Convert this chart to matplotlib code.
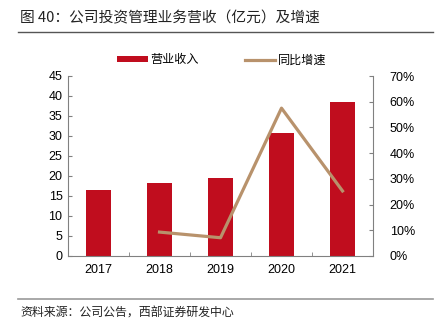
import matplotlib.pyplot as plt
from matplotlib.ticker import FuncFormatter, MultipleLocator
import numpy as np

plt.rcParams['font.family'] = ['Liberation Sans', 'Noto Sans CJK SC', 'DejaVu Sans']

years = ['2017', '2018', '2019', '2020', '2021']
revenue = [16.5, 18.2, 19.5, 30.7, 38.5]
growth_years = ['2018', '2019', '2020', '2021']
growth = [9.3, 7.1, 57.5, 25.3]

bar_color = '#C00D1E'
line_color = '#B8926C'
spine_color = '#808080'

fig = plt.figure(figsize=(4.4, 3.25), dpi=100)

# title and source
fig.text(20/440, 1 - 18/325, '图 40：公司投资管理业务营收（亿元）及增速',
         fontsize=10.6, va='center', ha='left', family=['Noto Sans CJK SC'], color='#222222')
fig.add_artist(plt.Line2D([18/440, 433/440], [1 - 32/325, 1 - 32/325], color='#555555', lw=1))
fig.add_artist(plt.Line2D([18/440, 433/440], [1 - 299/325, 1 - 299/325], color='#999999', lw=1.2))
fig.text(20/440, 1 - 313/325, '资料来源：公司公告，西部证券研发中心',
         fontsize=8.6, va='center', ha='left', family=['Noto Sans CJK SC'], color='#222222')

ax = fig.add_axes([68/440, 1 - 256/325, 305/440, 180/325])
x = np.arange(len(years))
bars = ax.bar(x, revenue, width=0.4, color=bar_color, label='营业收入', zorder=2)
ax.set_xlim(-0.5, len(years) - 0.5)
ax.set_ylim(0, 45)
ax.yaxis.set_major_locator(MultipleLocator(5))
ax.set_xticks(x)
ax.set_xticklabels(years)
ax.set_xticks(np.arange(-0.5, len(years)), minor=True)
ax.tick_params(axis='x', which='major', length=0, labelsize=9, pad=6)
ax.tick_params(axis='x', which='minor', direction='in', length=3, color=spine_color)
ax.tick_params(axis='y', direction='in', length=3, color=spine_color, labelsize=9, pad=4)
ax.spines['top'].set_visible(False)
ax.spines['right'].set_visible(False)
for s in ['left', 'bottom']:
    ax.spines[s].set_color(spine_color)

ax2 = ax.twinx()
gx = [years.index(y) for y in growth_years]
line, = ax2.plot(gx, growth, color=line_color, lw=2.3, label='同比增速', zorder=3)
ax2.set_ylim(0, 70)
ax2.yaxis.set_major_locator(MultipleLocator(10))
ax2.yaxis.set_major_formatter(FuncFormatter(lambda v, p: f'{v:.0f}%'))
ax2.tick_params(axis='y', direction='in', length=3, color=spine_color, labelsize=9, pad=12)
ax2.spines['top'].set_visible(False)
ax2.spines['left'].set_visible(False)
ax2.spines['bottom'].set_visible(False)
ax2.spines['right'].set_color(spine_color)

fig.legend([bars, line], ['营业收入', '同比增速'], loc='center', ncol=2,
           bbox_to_anchor=(222/440, 1 - 60/325), frameon=False,
           prop={'family': ['Noto Sans CJK SC'], 'size': 8.7},
           handlelength=2.5, handleheight=0.35, columnspacing=3.8, handletextpad=0.25)

fig.savefig('out.png', dpi=100)
